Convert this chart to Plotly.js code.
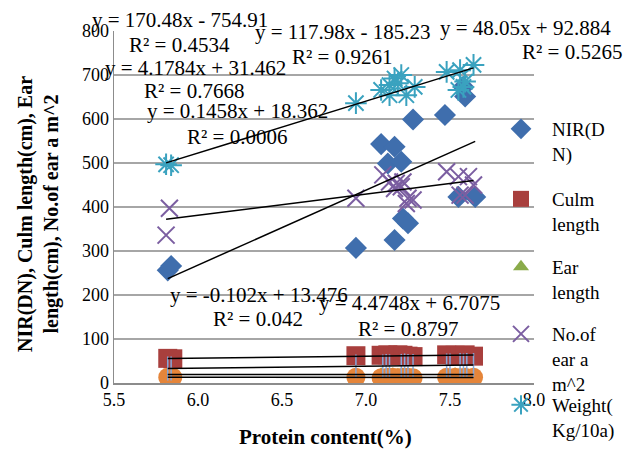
<!DOCTYPE html>
<html>
<head>
<meta charset="utf-8">
<script src="https://cdn.plot.ly/plotly-3.0.1.min.js"></script>
<style>html,body{margin:0;padding:0;background:#fff;}#chart{width:634px;height:450px;}</style>
</head>
<body>
<div id="chart"></div>
<script>
// ---- data ----
const nirX = [5.82, 5.84, 6.94, 7.09, 7.13, 7.17, 7.17, 7.21, 7.22, 7.25, 7.28, 7.47, 7.55, 7.58, 7.59, 7.65];
const nirY = [256, 266, 307, 543, 499, 537, 325, 503, 374, 363, 599, 609, 423, 673, 651, 423];

const culmX = [5.82, 5.85, 6.94, 7.09, 7.13, 7.16, 7.19, 7.22, 7.25, 7.28, 7.48, 7.53, 7.56, 7.59, 7.64];
const culmY = [56, 55, 62, 63, 64, 62, 64, 63, 61, 60, 64, 63, 62, 64, 61];

const earX = [5.82, 5.85, 6.94, 7.09, 7.13, 7.16, 7.19, 7.22, 7.25, 7.28, 7.48, 7.53, 7.56, 7.59, 7.64];
const earY = [19, 19, 19, 20, 19, 20, 19, 19, 20, 19, 19, 20, 19, 19, 20];

const noEarX = [5.81, 5.83, 6.94, 7.10, 7.14, 7.17, 7.18, 7.21, 7.22, 7.24, 7.25, 7.28, 7.48, 7.55, 7.56, 7.59, 7.61, 7.64];
const noEarY = [336, 397, 420, 473, 457, 442, 454, 446, 457, 408, 420, 416, 480, 469, 427, 427, 469, 450];

const weightX = [5.81, 5.84, 6.94, 7.09, 7.14, 7.14, 7.17, 7.19, 7.21, 7.24, 7.29, 7.48, 7.55, 7.56, 7.58, 7.59, 7.64];
const weightY = [497, 495, 636, 666, 677, 654, 692, 681, 700, 654, 673, 707, 666, 711, 673, 685, 723];

const orangeX = [5.82, 5.85, 6.94, 7.09, 7.13, 7.16, 7.19, 7.22, 7.25, 7.28, 7.48, 7.53, 7.56, 7.59, 7.64];
const orangeY = [13, 13, 13, 12, 13, 13, 12, 13, 13, 12, 13, 13, 12, 13, 13];

const blueX = [5.82, 5.84, 6.94, 7.10, 7.12, 7.14, 7.21, 7.23, 7.25, 7.28, 7.48, 7.50, 7.56, 7.58, 7.60, 7.64];
const blueY = [33, 33, 38, 38, 39, 38, 39, 40, 39, 39, 40, 40, 41, 40, 41, 41];

// trendline coefficients (slope, intercept) as printed on the chart
const trendSlope     = [170.48, 4.1784, 0.1458, 48.05, 117.98, -0.102, 4.4748];
const trendIntercept = [-754.91, 31.462, 18.362, 92.884, -185.23, 13.476, 6.7075];

const eqLabels = ["y = 170.48x - 754.91", "y = 4.1784x + 31.462", "y = 0.1458x + 18.362",
                  "y = 48.05x + 92.884", "y = 117.98x - 185.23", "y = -0.102x + 13.476", "y = 4.4748x + 6.7075"];
const r2Labels = ["R² = 0.4534", "R² = 0.7668", "R² = 0.0006", "R² = 0.5265", "R² = 0.9261", "R² = 0.042", "R² = 0.8797"];

const seriesNames = ['NIR(D<br>N)', 'Culm<br>length', 'Ear<br>length', 'No.of<br>ear a<br>m^2', 'Weight(<br>Kg/10a)'];
const xTicks = [5.5, 6.0, 6.5, 7.0, 7.5, 8.0];
const yTicks = [0, 100, 200, 300, 400, 500, 600, 700, 800];
const xTitle = 'Protein content(%)';
const yTitle = 'NIR(DN), Culm length(cm), Ear<br>length(cm), No.of ear a m^2';
// ---------------------------------------

const FONT = 'Times New Roman, Liberation Serif, serif';
const W = 634, H = 450;
const L = 114, R = 534, T = 31, B = 383;
const px2x = p => (p - L) / (R - L);
const px2y = p => (B - p) / (B - T);

const seriesXs = [nirX, culmX, earX, noEarX, weightX, orangeX, blueX];

const traces = [
  {name: seriesNames[0], legend: 'legend', x: nirX, y: nirY, type: 'scatter', mode: 'markers',
   marker: {symbol: 'diamond', size: 17, color: '#3f6ead'}},
  {name: seriesNames[1], legend: 'legend2', x: culmX, y: culmY, type: 'scatter', mode: 'markers',
   marker: {symbol: 'square', size: 19, color: '#a83f3d'}},
  {name: seriesNames[2], legend: 'legend3', x: earX, y: earY, type: 'scatter', mode: 'markers',
   marker: {symbol: 'triangle-up', size: 14, color: '#8aab4a'}},
  {name: seriesNames[3], legend: 'legend4', x: noEarX, y: noEarY, type: 'scatter', mode: 'markers',
   marker: {symbol: 'x-thin-open', size: 17, color: '#7b5ea1', line: {width: 2, color: '#7b5ea1'}}},
  {name: seriesNames[4], legend: 'legend5', x: weightX, y: weightY, type: 'scatter', mode: 'markers',
   marker: {symbol: 'asterisk-open', size: 18, color: '#3aa2bf', line: {width: 2, color: '#3aa2bf'}}},
  {name: 'orange', x: orangeX, y: orangeY, type: 'scatter', mode: 'markers', showlegend: false,
   marker: {symbol: 'circle', size: 19, color: '#e5853a'}},
  {name: 'blue', x: blueX, y: blueY, type: 'scatter', mode: 'markers', showlegend: false,
   marker: {symbol: 'line-ns-open', size: 17, color: '#85a9dc', line: {width: 1.5, color: '#85a9dc'}}}
];

trendSlope.forEach((m, i) => {
  const xs = seriesXs[i];
  const x0 = Math.min(...xs), x1 = Math.max(...xs);
  traces.push({x: [x0, x1], y: [m * x0 + trendIntercept[i], m * x1 + trendIntercept[i]],
    type: 'scatter', mode: 'lines', showlegend: false, hoverinfo: 'skip',
    line: {color: '#000', width: 1.5}});
});

const labelPos = [
  [180, 20, 179, 45],
  [195, 68, 194, 91],
  [237, 111, 237, 137],
  [525, 28, 572, 52],
  [343, 32, 342, 57],
  [259, 295, 258, 319],
  [409, 303, 408, 329]
];
const annotations = [];
labelPos.forEach((p, i) => {
  annotations.push({xref: 'paper', yref: 'paper', x: px2x(p[0]), y: px2y(p[1]), text: eqLabels[i],
    showarrow: false, xanchor: 'center', yanchor: 'middle', font: {family: FONT, size: 21, color: '#000'}});
  annotations.push({xref: 'paper', yref: 'paper', x: px2x(p[2]), y: px2y(p[3]), text: r2Labels[i],
    showarrow: false, xanchor: 'center', yanchor: 'middle', font: {family: FONT, size: 21, color: '#000'}});
});
annotations.push({xref: 'paper', yref: 'paper', x: px2x(38), y: px2y(214), text: '<b>' + yTitle + '</b>',
  textangle: -90, showarrow: false, xanchor: 'center', yanchor: 'middle',
  font: {family: FONT, size: 20, color: '#000'}});
annotations.push({xref: 'paper', yref: 'paper', x: px2x(325), y: px2y(437), text: '<b>' + xTitle + '</b>',
  showarrow: false, xanchor: 'center', yanchor: 'middle',
  font: {family: FONT, size: 21, color: '#000'}});

const legMarkerY = [127, 197, 265, 332, 403];
const legendBase = i => ({xref: 'container', yref: 'container',
  x: 490 / W, y: 1 - (legMarkerY[i] - 17) / H, xanchor: 'left', yanchor: 'top',
  bgcolor: 'rgba(0,0,0,0)', font: {family: FONT, size: 19, color: '#000'},
  valign: 'top', itemwidth: 52});

const layout = {
  width: W, height: H,
  margin: {l: L, r: W - R, t: T, b: H - B, pad: 0, autoexpand: false},
  paper_bgcolor: '#fff', plot_bgcolor: '#fff',
  font: {family: FONT, size: 17, color: '#000'},
  showlegend: true,
  legend: legendBase(0), legend2: legendBase(1), legend3: legendBase(2),
  legend4: legendBase(3), legend5: legendBase(4),
  xaxis: {range: [5.5, 8.0], tickvals: xTicks, ticktext: xTicks.map(v => v.toFixed(1)),
          showgrid: false, zeroline: false, showline: true, linecolor: '#8c8c8c', linewidth: 1.5,
          ticks: '', tickfont: {family: FONT, size: 18}},
  yaxis: {range: [0, 800], tickvals: yTicks, showgrid: true, gridcolor: '#a6a6a6', gridwidth: 1.5,
          zeroline: false, showline: true, linecolor: '#8c8c8c', linewidth: 1.5,
          ticks: '', tickfont: {family: FONT, size: 18}},
  annotations: annotations
};

Plotly.newPlot('chart', traces, layout, {displayModeBar: false, staticPlot: true});
</script>
</body>
</html>
